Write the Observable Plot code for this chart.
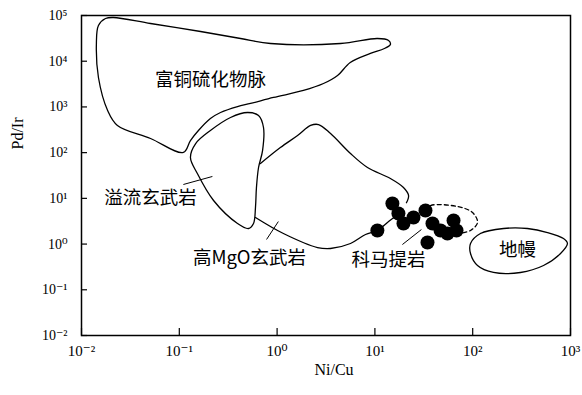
<!DOCTYPE html>
<html>
<head>
<meta charset="utf-8">
<script src="https://cdn.jsdelivr.net/npm/d3@7"></script>
<script src="https://cdn.jsdelivr.net/npm/@observablehq/plot@0.6"></script>
<style>
  html, body { margin: 0; padding: 0; background: #fff; }
  svg text { -webkit-font-smoothing: antialiased; }
</style>
</head>
<body>
<div id="chart"></div>
<script>
// ---- data (in Ni/Cu , Pd/Ir units) ----
const xTicks = [0.01, 0.1, 1, 10, 100, 1000];
const yTicks = [0.01, 0.1, 1, 10, 100, 1000, 10000, 100000];

// 富铜硫化物脉 field outline
const sulfideVein = [[0.0212,90400],[0.0508,66800],[0.165,44700],[0.423,31400],[0.857,24400],[4.45,24400],[10.6,31400],[13.8,28400],[14.4,23200],[12.5,19000],[9.0,14800],[5.6,9380],[4.15,4870],[2.98,3250],[1.86,2290],[0.918,1610],[0.535,1190],[0.394,1020],[0.264,755],[0.208,558],[0.157,305],[0.130,184],[0.110,101],[0.0508,204],[0.0233,393],[0.0185,836],[0.0149,4400],[0.0142,24400],[0.0149,60400],[0.0176,85900]];

// 溢流玄武岩 field outline
const floodBasalt = [[0.498,755],[0.646,649],[0.726,355],[0.710,111],[0.646,47.3],[0.615,17.3],[0.601,6.31],[0.574,2.82],[0.511,2.19],[0.394,2.82],[0.224,8.97],[0.153,34.9],[0.130,78.3],[0.147,158],[0.208,305],[0.334,588]];

// 高MgO玄武岩 field: upper and lower boundaries (left side shared with flood basalt)
const highMgOUpper = [[0.676,57.8],[1.08,129],[1.62,237],[2.20,393],[2.65,412],[3.52,262],[5.63,95.7],[8.40,47.3],[14.4,27.2],[19.6,17.3],[22.1,11.5],[21.0,8.0]];
const highMgOLower = [[18.3,4.90],[13.8,3.11],[10.6,1.98],[8.02,1.62],[5.63,1.03],[3.52,0.80],[2.59,0.84],[1.16,1.70],[0.601,3.81]];

// 科马提岩 field, dashed extension
const komatiiteField = [[32.9,5.42],[37.1,6.97],[70.0,6.62],[99.5,4.90],[112,2.97],[95.0,1.98],[71.6,1.70]];

// 地幔 field outline
const mantle = [[95.0,1.03],[120,1.70],[207,2.19],[363,2.19],[582,1.79],[848,1.32],[931,1.03],[791,0.621],[530,0.340],[308,0.239],[163,0.239],[112,0.340],[95.0,0.621]];

// 科马提岩 samples
const sampleNiCu = [15.1,10.6,17.4,19.6,24.8,32.9,38.8,46.9,34.5,63.7,68.3,55.2];
const samplePdIr = [7.71,1.98,4.66,2.82,3.81,5.42,2.82,1.98,1.08,3.27,1.98,1.70];

// field labels and their leader lines
const labelText = ["富铜硫化物脉", "溢流玄武岩", "高MgO玄武岩", "科马提岩", "地幔"];
const labelNiCu = [0.208, 0.0508, 0.522, 13.8, 287];
const labelPdIr = [3790, 9.9, 0.483, 0.437, 0.723];
const leaders = [
  {x1: 0.110, y1: 20.1, x2: 0.218, y2: 30.1},
  {x1: 0.780, y1: 1.26, x2: 1.03, y2: 3.11},
  {x1: 19.1, y1: 0.977, x2: 29.9, y2: 2.08}
];

// ---- build ----
const sup = {"-":"⁻","0":"⁰","1":"¹","2":"²","3":"³","4":"⁴","5":"⁵","6":"⁶","7":"⁷","8":"⁸","9":"⁹"};
const pow10 = d => "10" + String(Math.round(Math.log10(d))).split("").map(c => sup[c]).join("");

const samples = sampleNiCu.map((x, i) => ({x, y: samplePdIr[i]}));
const labels = labelText.map((t, i) => ({t, x: labelNiCu[i], y: labelPdIr[i]}));
const P = a => a.map(([x, y]) => ({x, y}));

const plotW = 582 - 81 - 12, plotH = 395 - 15 - 60;
const serif = "'Liberation Serif', 'DejaVu Serif', serif";
const cjk = "'Noto Sans CJK SC', 'Liberation Serif', sans-serif";

const chart = Plot.plot({
  width: 582,
  height: 395,
  marginLeft: 81,
  marginRight: 12,
  marginTop: 15,
  marginBottom: 60,
  style: {fontFamily: serif, background: "white", color: "black"},
  x: {type: "log", domain: [0.01, 1000]},
  y: {type: "log", domain: [0.01, 100000]},
  marks: [
    Plot.line(P(sulfideVein), {x: "x", y: "y", curve: "catmull-rom-closed", stroke: "black", strokeWidth: 1.3}),
    Plot.line(P(floodBasalt), {x: "x", y: "y", curve: "catmull-rom-closed", stroke: "black", strokeWidth: 1.3}),
    Plot.line(P(highMgOUpper), {x: "x", y: "y", curve: "catmull-rom", stroke: "black", strokeWidth: 1.3}),
    Plot.line(P(highMgOLower), {x: "x", y: "y", curve: "catmull-rom", stroke: "black", strokeWidth: 1.3}),
    Plot.line(P(komatiiteField), {x: "x", y: "y", curve: "catmull-rom", stroke: "black", strokeWidth: 1.3, strokeDasharray: "4,3"}),
    Plot.line(P(mantle), {x: "x", y: "y", curve: "catmull-rom-closed", stroke: "black", strokeWidth: 1.3}),
    Plot.link(leaders, {x1: "x1", y1: "y1", x2: "x2", y2: "y2", stroke: "black", strokeWidth: 1}),
    Plot.dot(samples, {x: "x", y: "y", r: 7, fill: "black", stroke: "none"}),
    Plot.text(labels, {x: "x", y: "y", text: "t", fontFamily: cjk, fontSize: 18.5, fill: "black"}),
    // inward ticks
    Plot.tickY(yTicks, {y: d => d, insetRight: plotW - 6, stroke: "black", strokeWidth: 1.2}),
    Plot.tickX(xTicks, {x: d => d, insetTop: plotH - 7, stroke: "black", strokeWidth: 1.2}),
    Plot.frame({stroke: "black", strokeWidth: 1.5}),
    Plot.axisY(yTicks, {tickSize: 0, tickPadding: 14, tickFormat: pow10, fontSize: 14, label: null}),
    Plot.axisX(xTicks, {tickSize: 0, tickPadding: 10, tickFormat: pow10, fontSize: 15, label: null}),
    Plot.text(["Ni/Cu"], {frameAnchor: "bottom", dy: 39, dx: 8, fontSize: 16, fill: "black"}),
    Plot.text(["Pd/Ir"], {frameAnchor: "left", dx: -64, dy: -26, rotate: -90, fontSize: 16, fill: "black"})
  ]
});
document.getElementById("chart").appendChild(chart);
</script>
</body>
</html>
